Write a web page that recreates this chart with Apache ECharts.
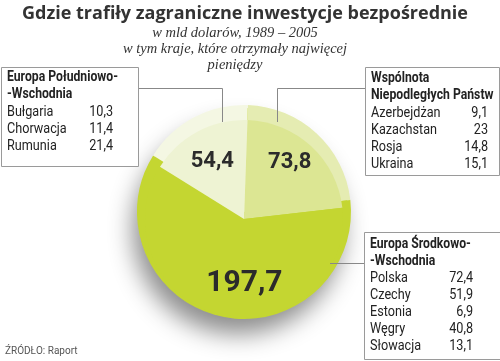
<!DOCTYPE html>
<html><head><meta charset="utf-8">
<script src="https://cdn.jsdelivr.net/npm/echarts@6/dist/echarts.min.js"></script>
<style>html,body{margin:0;padding:0;background:#fff}#c{width:500px;height:361px}</style>
</head><body><div id="c"></div>
<script>
// ---- data ----
const regionNames = ['Wspólnota Niepodległych Państw', 'Europa Środkowo-Wschodnia', 'Europa Południowo-Wschodnia'];
const regionValues = [73.8, 197.7, 54.4];

const seTitle = ['Europa Południowo-', '-Wschodnia'];
const seCountries = ['Bułgaria', 'Chorwacja', 'Rumunia'];
const seValues = [10.3, 11.4, 21.4];

const wnpTitle = ['Wspólnota', 'Niepodległych Państw'];
const wnpCountries = ['Azerbejdżan', 'Kazachstan', 'Rosja', 'Ukraina'];
const wnpValues = [9.1, 23, 14.8, 15.1];

const ceTitle = ['Europa Środkowo-', '-Wschodnia'];
const ceCountries = ['Polska', 'Czechy', 'Estonia', 'Węgry', 'Słowacja'];
const ceValues = [72.4, 51.9, 6.9, 40.8, 13.1];

const titleText = 'Gdzie trafiły zagraniczne inwestycje bezpośrednie';
const subtitleLines = ['w mld dolarów, 1989 – 2005', 'w tym kraje, które otrzymały najwięcej', 'pieniędzy'];
const sourceText = 'ŹRÓDŁO: Raport';

// ---- styling ----
const faceColors = ['#dce693', '#c4d631', '#eef3d3'];
const rimColors = ['#e5ecb2', '#c4d631', '#f4f7e3'];
const fmt = v => String(v).replace('.', ',');
const BOXFONT = 'Roboto, sans-serif';
const cv = document.createElement('canvas').getContext('2d');
cv.font = 'bold 14px ' + BOXFONT;
const SX = 111 / cv.measureText('Europa Południowo-').width;

const graphics = [];
function txt(t, x, y, font, align) {
  graphics.push({type: 'text', z: 6, x: x, y: y, scaleX: SX,
    style: {text: t, x: 0, y: 0, font: font, fill: '#222', textAlign: align || 'left', textVerticalAlign: 'middle'}});
}
function box(x, y, w, h, title, names, vals, valRight, rowY0, titleY0) {
  graphics.push({type: 'rect', shape: {x: x + 0.5, y: y + 0.5, width: w, height: h},
    style: {fill: '#fff', stroke: '#9a9a9a', lineWidth: 1}, z: 5});
  title.forEach((t, i) => txt(t, x + 6, titleY0 + i * 17, 'bold 14px ' + BOXFONT));
  names.forEach((n, i) => {
    txt(n, x + 6, rowY0 + i * 17, '14.5px ' + BOXFONT);
    txt(fmt(vals[i]), valRight, rowY0 + i * 17, '14.5px ' + BOXFONT, 'right');
  });
}
box(1, 67, 137, 99, seTitle, seCountries, seValues, 113, 112, 77);
box(365, 67, 134, 108, wnpTitle, wnpCountries, wnpValues, 488, 113, 78);
box(364, 232, 137, 127, ceTitle, ceCountries, ceValues, 473, 278, 244);

function poly(points) {
  graphics.push({type: 'polyline', z: 4, shape: {points}, style: {stroke: '#888', lineWidth: 1, fill: null}});
}
poly([[138, 88.5], [222.5, 88.5], [222.5, 122]]);
poly([[365, 88.5], [277.5, 88.5], [277.5, 122]]);
poly([[364, 263.5], [330, 263.5]]);

graphics.push({type: 'text', style: {text: titleText, x: 245, y: 14, font: 'bold 18px "Open Sans","Liberation Sans",sans-serif', fill: '#333', textAlign: 'center', textVerticalAlign: 'middle'}});
subtitleLines.forEach((t, i) => graphics.push({type: 'text',
  style: {text: t, x: 235, y: 33 + i * 16, font: 'italic 14.5px "Liberation Serif","DejaVu Serif",serif', fill: '#333', textAlign: 'center', textVerticalAlign: 'middle'}}));
graphics.push({type: 'text', style: {text: sourceText, x: 5, y: 351, font: '10px "Roboto",sans-serif', fill: '#555', textVerticalAlign: 'middle'}});

const labelShift = [[10, -18], [12, 13], [-7, -11]];

const chart = echarts.init(document.getElementById('c'), null, {renderer: 'canvas'});
chart.setOption({
  animation: false,
  graphic: graphics,
  series: [
    { // shadow disc
      type: 'pie', silent: true, center: [243, 213], radius: 105, startAngle: 88,
      label: {show: false}, z: 1,
      data: [{value: regionValues.reduce((a, b) => a + b, 0), itemStyle: {color: '#c4d631', shadowBlur: 24, shadowOffsetY: 16, shadowOffsetX: -5, shadowColor: 'rgba(0,0,0,0.45)'}}]
    },
    { // rim
      type: 'pie', silent: true, center: [244, 212], radius: 107, startAngle: 88, z: 2,
      label: {show: false}, labelLine: {show: false},
      data: regionValues.map((v, i) => ({value: v, name: regionNames[i], itemStyle: {color: rimColors[i]}}))
    },
    { // face
      type: 'pie', silent: true, center: [244, 219], radius: 99, startAngle: 88, z: 3,
      labelLine: {show: false},
      label: {show: true, position: 'inside', fontFamily: 'Roboto, sans-serif', fontWeight: 'bold', color: '#2b2b2b',
        formatter: p => fmt(p.value)},
      labelLayout: p => ({dx: labelShift[p.dataIndex][0], dy: labelShift[p.dataIndex][1]}),
      data: regionValues.map((v, i) => ({value: v, name: regionNames[i], itemStyle: {color: faceColors[i]},
        label: {fontSize: v > 100 ? 30 : 22}}))
    }
  ]
});
</script></body></html>
